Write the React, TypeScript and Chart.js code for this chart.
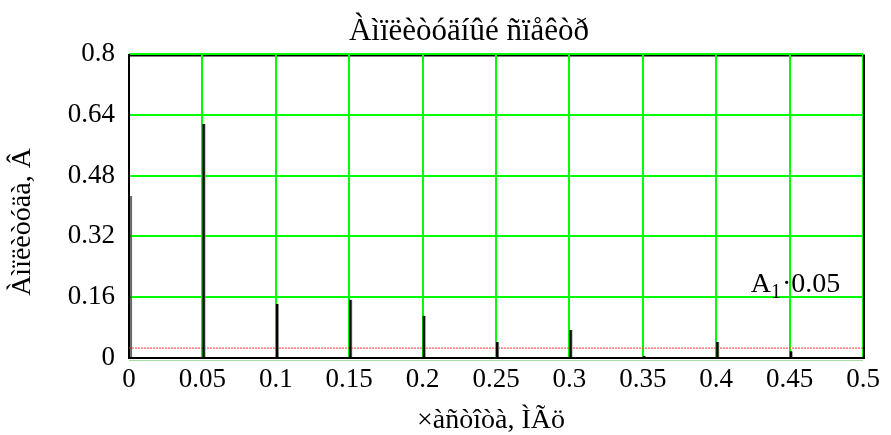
import React, { useEffect, useRef } from "react";
import { Chart, registerables } from "chart.js";

Chart.register(...registerables);

// ---- data ----
const frequencies = [0, 0.05, 0.1, 0.15, 0.2, 0.25, 0.3, 0.35, 0.4, 0.45];
const amplitudes = [0.426, 0.616, 0.142, 0.153, 0.111, 0.042, 0.074, 0.005, 0.042, 0.018];
const thresholdLevel = 0.026;
const xTickValues = [0, 0.05, 0.1, 0.15, 0.2, 0.25, 0.3, 0.35, 0.4, 0.45, 0.5];
const yTickValues = [0, 0.16, 0.32, 0.48, 0.64, 0.8];
const chartTitle = "Àìïëèòóäíûé ñïåêòð";
const xAxisTitle = "×àñòîòà, ÌÃö";
const yAxisTitle = "Àìïëèòóäà, Â";
const annotationMain = "A";
const annotationSub = "1";
const annotationRest = "·0.05";
const annotationAt = { x: 0.4235, y: 0.174 };

const FONT = '"Liberation Serif", "Times New Roman", serif';

const framePlugin = {
  id: "frame",
  beforeDraw(chart: any) {
    const { ctx, chartArea: a } = chart;
    ctx.save();
    ctx.strokeStyle = "#000";
    ctx.lineWidth = 2;
    ctx.beginPath();
    ctx.moveTo(a.left, a.top + 1.5);
    ctx.lineTo(a.right + 2, a.top + 1.5);
    ctx.stroke();
    ctx.restore();
  },
  beforeDatasetsDraw(chart: any) {
    const { ctx, chartArea: a } = chart;
    ctx.save();
    ctx.strokeStyle = "#000";
    ctx.lineWidth = 2;
    ctx.beginPath();
    ctx.moveTo(a.right + 1, a.top + 1);
    ctx.lineTo(a.right + 1, a.bottom + 1);
    ctx.moveTo(a.left - 1, a.bottom);
    ctx.lineTo(a.right + 2, a.bottom);
    ctx.moveTo(a.left, a.top);
    ctx.lineTo(a.left, a.bottom + 1);
    ctx.stroke();
    ctx.strokeStyle = "#a8dca8";
    ctx.lineWidth = 1;
    ctx.beginPath();
    ctx.moveTo(a.left, a.bottom + 2.5);
    ctx.lineTo(a.right, a.bottom + 2.5);
    ctx.stroke();
    ctx.restore();
  },
  beforeDatasetDraw(chart: any, args: any) {
    chart.ctx.save();
    if (args.meta.type === "bar") chart.ctx.translate(1.5, 0);
  },
  afterDatasetDraw(chart: any) {
    chart.ctx.restore();
  },
  afterDraw(chart: any) {
    const { ctx, chartArea: a, scales } = chart;
    ctx.save();
    ctx.fillStyle = "#000";
    // main title
    ctx.font = `31px ${FONT}`;
    ctx.textAlign = "center";
    ctx.textBaseline = "alphabetic";
    ctx.fillText(chartTitle, (a.left + a.right) / 2 - 27, 40);
    // x axis title
    ctx.font = `28px ${FONT}`;
    ctx.fillText(xAxisTitle, (a.left + a.right) / 2 - 5, 428);
    // y axis title
    ctx.save();
    ctx.translate(23, (a.top + a.bottom) / 2 + 16);
    ctx.rotate(-Math.PI / 2);
    ctx.textBaseline = "middle";
    ctx.fillText(yAxisTitle, 0, 0);
    ctx.restore();
    // annotation
    const px = scales.x.getPixelForValue(annotationAt.x);
    const py = scales.y.getPixelForValue(annotationAt.y);
    ctx.textAlign = "left";
    ctx.textBaseline = "alphabetic";
    ctx.font = `28px ${FONT}`;
    ctx.fillText(annotationMain, px, py);
    let cx = px + ctx.measureText(annotationMain).width;
    ctx.font = `20px ${FONT}`;
    ctx.fillText(annotationSub, cx, py + 6);
    cx += ctx.measureText(annotationSub).width + 1;
    ctx.font = `28px ${FONT}`;
    ctx.fillText(annotationRest, cx, py);
    ctx.restore();
  },
};

export default function App() {
  const canvasRef = useRef<HTMLCanvasElement | null>(null);

  useEffect(() => {
    document.body.style.margin = "0";
    const canvas = canvasRef.current;
    if (!canvas) return;
    const chart = new Chart(canvas, {
      type: "bar",
      data: {
        datasets: [
          {
            type: "line",
            data: [
              { x: 0, y: thresholdLevel },
              { x: 0.5, y: thresholdLevel },
            ],
            borderColor: "#ff3030",
            borderWidth: 1,
            borderDash: [2, 1],
            pointRadius: 0,
            fill: false,
            order: 2,
          } as any,
          {
            type: "bar",
            data: frequencies.map((f, i) => ({ x: f, y: amplitudes[i] })),
            backgroundColor: "#000",
            borderColor: "#9a9a9a",
            borderWidth: { left: 0, right: 1, top: 0, bottom: 0 },
            borderSkipped: "start",
            barThickness: 3,
            order: 1,
          } as any,
        ],
      },
      options: {
        responsive: false,
        animation: false,
        devicePixelRatio: 1,
        layout: { padding: { top: 54, right: 28, left: 0, bottom: 0 } },
        plugins: {
          legend: { display: false },
          title: { display: false },
          tooltip: { enabled: false },
        },
        scales: {
          x: {
            type: "linear",
            min: 0,
            max: 0.5,
            offset: false,
            afterBuildTicks: (s: any) => {
              s.ticks = xTickValues.map((v) => ({ value: v }));
            },
            afterFit: (s: any) => {
              s.height = 77;
            },
            grid: {
              color: "#00ff00",
              lineWidth: 2,
              drawTicks: false,
              offset: false,
            },
            border: { display: false },
            ticks: {
              color: "#000",
              font: { family: FONT, size: 27 },
              padding: 6,
              maxRotation: 0,
              autoSkip: false,
              callback: (v: any) => String(Number(v)),
            },
          },
          y: {
            type: "linear",
            min: 0,
            max: 0.8,
            afterBuildTicks: (s: any) => {
              s.ticks = yTickValues.map((v) => ({ value: v }));
            },
            afterFit: (s: any) => {
              s.width = 129;
            },
            grid: { color: "#00ff00", lineWidth: 2, drawTicks: false },
            border: { display: false },
            ticks: {
              color: "#000",
              font: { family: FONT, size: 27 },
              padding: 14,
              autoSkip: false,
              callback: (v: any) => String(Number(v)),
            },
          },
        },
      },
      plugins: [framePlugin],
    });
    return () => chart.destroy();
  }, []);

  return <canvas ref={canvasRef} width={891} height={435} style={{ display: "block" }} />;
}
